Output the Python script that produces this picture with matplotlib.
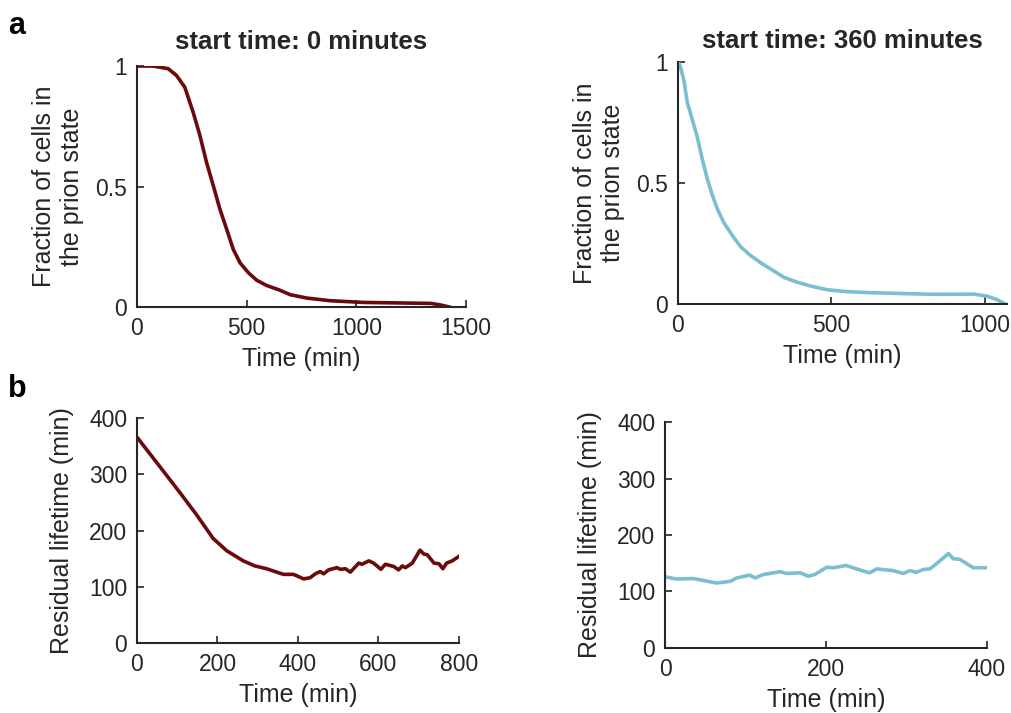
import matplotlib.pyplot as plt
from matplotlib.ticker import FuncFormatter

# panel a, start 0 min
frac0_t = [0, 73, 142, 180, 218, 256, 287, 317, 348, 378, 409, 439, 470, 508, 546,
           592, 645, 699, 775, 882, 1035, 1187, 1340, 1386, 1424]
frac0_y = [1.0, 1.0, 0.989, 0.961, 0.912, 0.808, 0.711, 0.60, 0.503, 0.406, 0.322,
           0.239, 0.183, 0.142, 0.111, 0.089, 0.072, 0.051, 0.037, 0.026, 0.019,
           0.017, 0.015, 0.008, 0.0]

# panel a, start 360 min
frac360_t = [0, 7, 20, 30, 47, 63, 79, 96, 112, 128, 150, 177, 204, 237, 275, 302,
             346, 389, 433, 487, 552, 628, 737, 846, 965, 1009, 1041, 1068]
frac360_y = [1.0, 0.985, 0.92, 0.835, 0.76, 0.69, 0.60, 0.515, 0.45, 0.394, 0.335,
             0.284, 0.237, 0.20, 0.166, 0.145, 0.11, 0.09, 0.074, 0.059, 0.051,
             0.047, 0.043, 0.040, 0.041, 0.032, 0.018, 0.0]

# panel b, start 0 min
life0_t = [0, 65, 106, 148, 189, 223, 264, 293, 322, 347, 364, 389, 414, 430, 443,
           455, 464, 476, 497, 505, 518, 530, 551, 559, 576, 588, 606, 617, 638,
           650, 659, 667, 684, 703, 713, 721, 738, 750, 760, 769, 783, 800]
life0_y = [366, 306, 268, 228, 186, 164, 146, 137, 132, 126, 122, 122, 114, 116, 123,
           127, 123, 130, 134, 131, 132, 126, 142, 140, 146, 142, 131, 140, 136,
           130, 137, 134, 142, 165, 158, 157, 142, 141, 132, 142, 146, 154]

# panel b, start 360 min
life360_t = [0, 14, 35, 64, 81, 89, 105, 112, 122, 143, 151, 168, 178, 186, 201, 209,
             225, 240, 254, 263, 283, 296, 304, 312, 321, 329, 337, 352, 358, 366,
             383, 400]
life360_y = [126, 122, 123, 115, 118, 124, 129, 124, 130, 135, 132, 133, 127, 130, 143,
             142, 146, 139, 133, 140, 137, 132, 137, 134, 139, 140, 149, 167, 158, 157,
             142, 142]

dark_red = "#6b0a0c"
light_blue = "#79bfcf"
text_col = "#262626"

plt.rcParams["font.family"] = ["Liberation Sans", "DejaVu Sans"]
plt.rcParams["text.color"] = text_col
plt.rcParams["axes.labelcolor"] = text_col
plt.rcParams["xtick.color"] = text_col
plt.rcParams["ytick.color"] = text_col

fig = plt.figure(figsize=(10.11, 7.13), dpi=100)

ax_a1 = fig.add_axes([0.1355, 0.5694, 0.3255, 0.338])
ax_a2 = fig.add_axes([0.6706, 0.5736, 0.3254, 0.3394])
ax_b1 = fig.add_axes([0.1355, 0.0982, 0.3185, 0.3155])
ax_b2 = fig.add_axes([0.6578, 0.0912, 0.3185, 0.3169])


def num_fmt(v, pos):
    return f"{v:g}"


def style(ax):
    for side in ("top", "right"):
        ax.spines[side].set_visible(False)
    for side in ("left", "bottom"):
        ax.spines[side].set_linewidth(1.5)
        ax.spines[side].set_color(text_col)
    ax.tick_params(direction="in", length=5, width=1.2, labelsize=16.5, pad=7)
    ax.xaxis.set_major_formatter(FuncFormatter(num_fmt))
    ax.yaxis.set_major_formatter(FuncFormatter(num_fmt))


ax_a1.plot(frac0_t, frac0_y, color=dark_red, lw=2.6)
ax_a1.set_xlim(0, 1500)
ax_a1.set_ylim(0, 1)
ax_a1.set_xticks([0, 500, 1000, 1500])
ax_a1.set_yticks([0, 0.5, 1])
ax_a1.set_title("start time: 0 minutes", fontsize=18.5, fontweight="bold", pad=12)

ax_a2.plot(frac360_t, frac360_y, color=light_blue, lw=2.6)
ax_a2.set_xlim(0, 1073)
ax_a2.set_ylim(0, 1)
ax_a2.set_xticks([0, 500, 1000])
ax_a2.set_yticks([0, 0.5, 1])
ax_a2.set_title("start time: 360 minutes", fontsize=18.5, fontweight="bold", pad=10)

for ax in (ax_a1, ax_a2):
    ax.set_ylabel("Fraction of cells in\nthe prion state", fontsize=18, labelpad=8)
    ax.set_xlabel("Time (min)", fontsize=18, labelpad=5)
    style(ax)

ax_b1.plot(life0_t, life0_y, color=dark_red, lw=2.6)
ax_b1.set_xlim(0, 800)
ax_b1.set_xticks([0, 200, 400, 600, 800])

ax_b2.plot(life360_t, life360_y, color=light_blue, lw=2.6)
ax_b2.set_xlim(0, 400)
ax_b2.set_xticks([0, 200, 400])

for ax in (ax_b1, ax_b2):
    ax.set_ylim(0, 400)
    ax.set_yticks([0, 100, 200, 300, 400])
    ax.set_ylabel("Residual lifetime (min)", fontsize=18, labelpad=11)
    ax.set_xlabel("Time (min)", fontsize=18, labelpad=5)
    style(ax)

fig.text(0.008, 0.985, "a", fontsize=22, fontweight="bold", color="black", va="top")
fig.text(0.008, 0.475, "b", fontsize=22, fontweight="bold", color="black", va="top")

fig.savefig("out.png", dpi=100)
